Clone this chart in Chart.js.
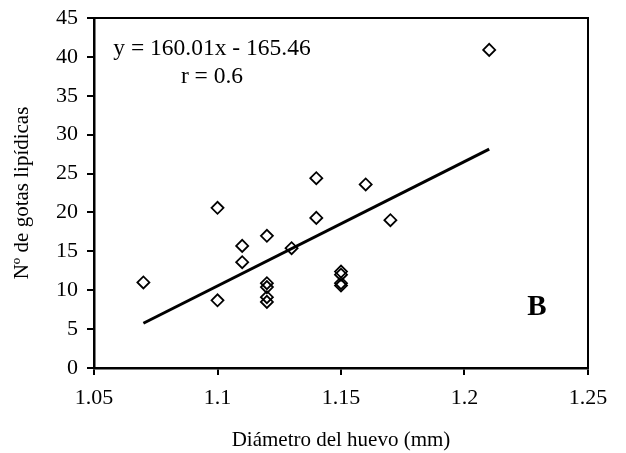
<!DOCTYPE html>
<html>
<head>
<meta charset="utf-8">
<script src="https://cdn.jsdelivr.net/npm/chart.js@4"></script>
<style>
  body { margin: 0; background: #fff; }
</style>
</head>
<body>
<canvas id="egg-chart" width="626" height="453"></canvas>
<script>
// egg diameter (mm) vs number of lipid droplets
const diametro = [1.07, 1.10, 1.10, 1.11, 1.11, 1.12, 1.12, 1.12, 1.12, 1.12, 1.13, 1.14, 1.14, 1.15, 1.15, 1.15, 1.15, 1.16, 1.17, 1.21];
const gotas = [11.0, 20.6, 8.7, 15.7, 13.6, 17.0, 10.9, 10.4, 9.1, 8.5, 15.4, 24.4, 19.3, 12.4, 12.0, 10.9, 10.6, 23.6, 19.0, 40.9];

// regression line end points
const ajusteX = [1.07, 1.21];
const ajusteY = [5.75, 28.15];

const ecuacion = 'y = 160.01x - 165.46';
const coefR = 'r = 0.6';
const panel = 'B';

const serif = '"Liberation Serif", "Times New Roman", serif';

const frame = {
    id: 'frame',
    afterDraw(chart) {
        const {ctx, chartArea: a} = chart;
        ctx.save();
        ctx.strokeStyle = '#000';
        ctx.lineWidth = 2;
        ctx.strokeRect(a.left, a.top, a.right - a.left, a.bottom - a.top);

        ctx.fillStyle = '#000';
        ctx.textAlign = 'center';
        ctx.textBaseline = 'middle';
        ctx.font = '23.5px ' + serif;
        ctx.fillText(ecuacion, 212, 49);
        ctx.fillText(coefR, 212, 77);
        ctx.font = 'bold 29px ' + serif;
        ctx.fillText(panel, 537, 308);
        ctx.restore();
    }
};

const ctx = document.getElementById('egg-chart');

new Chart(ctx, {
    type: 'scatter',
    data: {
        datasets: [
            {
                label: 'Gotas',
                data: diametro.map((d, i) => ({x: d, y: gotas[i]})),
                pointStyle: 'rectRot',
                pointRadius: 6,
                borderColor: '#000',
                borderWidth: 1.8,
                backgroundColor: 'rgba(0,0,0,0)'
            },
            {
                label: 'Ajuste',
                data: ajusteX.map((d, i) => ({x: d, y: ajusteY[i]})),
                showLine: true,
                pointRadius: 0,
                borderColor: '#000',
                borderWidth: 3
            }
        ]
    },
    options: {
        responsive: false,
        animation: false,
        layout: {
            padding: {left: 0, top: 18, right: 38, bottom: 0}
        },
        plugins: {
            legend: {display: false},
            tooltip: {enabled: false}
        },
        scales: {
            x: {
                min: 1.05,
                max: 1.25,
                afterFit: scale => { scale.height = 85; },
                ticks: {
                    stepSize: 0.05,
                    color: '#000',
                    padding: 10,
                    font: {family: serif, size: 22},
                    callback: v => String(parseFloat(v.toFixed(2)))
                },
                grid: {
                    drawOnChartArea: false,
                    tickLength: 7,
                    color: '#000',
                    lineWidth: 2
                },
                border: {color: '#000', width: 2.5},
                title: {
                    display: true,
                    text: 'Diámetro del huevo (mm)',
                    color: '#000',
                    font: {family: serif, size: 21},
                    padding: {top: 4, bottom: 0}
                }
            },
            y: {
                min: 0,
                max: 45,
                afterFit: scale => {
                    scale.width = 94;
                    scale.paddingTop = 0;
                    scale.paddingBottom = 0;
                },
                ticks: {
                    stepSize: 5,
                    color: '#000',
                    padding: 9,
                    font: {family: serif, size: 22}
                },
                grid: {
                    drawOnChartArea: false,
                    tickLength: 7,
                    color: '#000',
                    lineWidth: 2
                },
                border: {color: '#000', width: 2.5},
                title: {
                    display: true,
                    text: 'Nº de gotas lipídicas',
                    color: '#000',
                    font: {family: serif, size: 21},
                    padding: {top: 10, bottom: 0}
                }
            }
        }
    },
    plugins: [frame]
});
</script>
</body>
</html>
